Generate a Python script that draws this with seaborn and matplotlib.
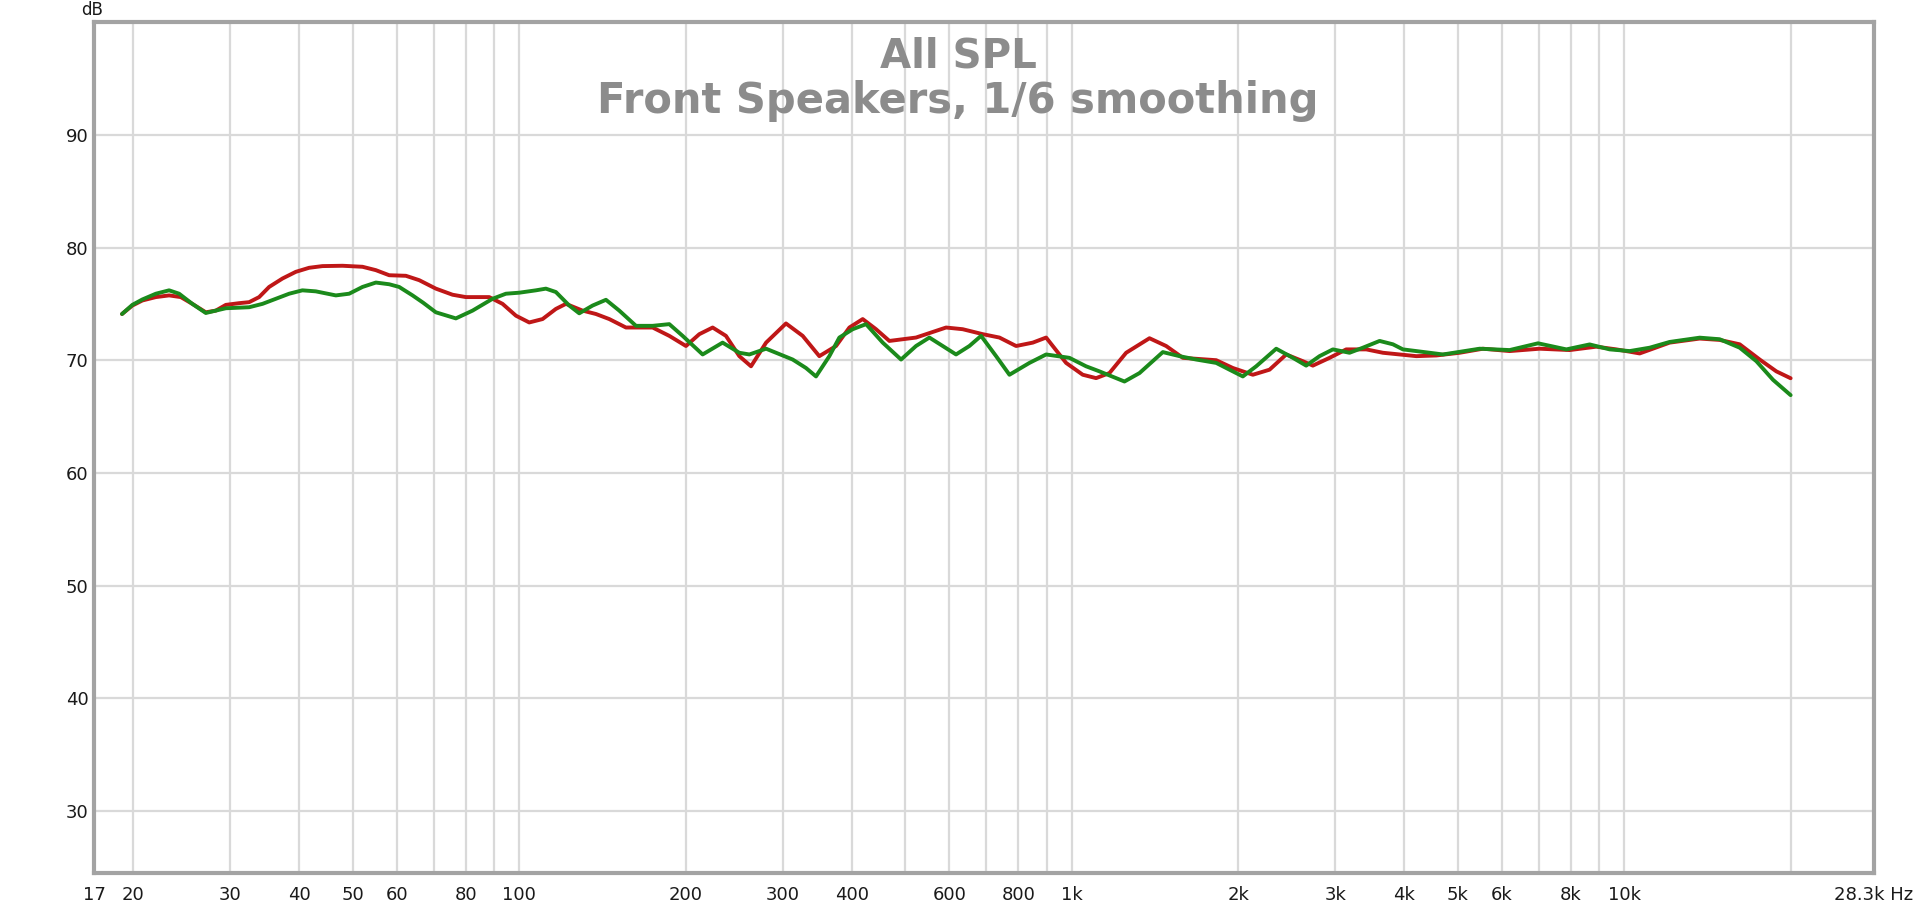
import numpy as np
import pandas as pd
import matplotlib.pyplot as plt
import seaborn as sns

# ──────────────────────────────────────────────
# Data read off the REW "All SPL" plot
# ──────────────────────────────────────────────

red_freq = [19.1, 19.94, 20.79, 21.99, 23.24, 24.40, 25.60, 27.08, 28.23, 29.44, 31.11,
            32.44, 33.82, 35.26, 37.28, 39.40, 41.65, 44.04, 47.88, 52.03, 55.01, 58.15,
            62.34, 65.91, 70.64, 75.72, 80.05, 88.23, 93.27, 98.62, 104.24, 110.19,
            116.48, 121.46, 130.20, 137.64, 145.52, 155.99, 174.33, 186.87, 200.3,
            211.77, 223.88, 236.62, 250.2, 262.7, 279.7, 303.9, 325.8, 349.2, 374.4,
            395.8, 418.4, 442.3, 467.6, 522.5, 592.2, 634.7, 690.0, 739.7, 792.9, 850.0,
            898.6, 923.8, 976.6, 1046.8, 1106.7, 1170.0, 1254.2, 1382.4, 1481.9, 1588.5,
            1825.6, 1956.6, 2126.8, 2280.0, 2444.0, 2620, 2731, 2928, 3138, 3412, 3657,
            4203, 4568, 5034, 5548, 6200, 7029, 7963, 8898, 9673, 10662, 12080, 13692,
            14880, 16176, 17582, 18844, 20000]
red_db = [74.10, 74.85, 75.30, 75.60, 75.75, 75.60, 75.00, 74.25, 74.40, 74.91, 75.06,
          75.15, 75.60, 76.50, 77.25, 77.84, 78.20, 78.35, 78.38, 78.29, 77.99, 77.54,
          77.49, 77.10, 76.35, 75.81, 75.60, 75.60, 75.00, 73.95, 73.35, 73.65, 74.55,
          75.00, 74.40, 74.10, 73.65, 72.90, 72.90, 72.16, 71.26, 72.31, 72.90, 72.16,
          70.36, 69.46, 71.56, 73.26, 72.16, 70.36, 71.26, 72.90, 73.65, 72.75, 71.71,
          72.01, 72.90, 72.75, 72.31, 72.01, 71.26, 71.56, 72.01, 71.26, 69.76, 68.71,
          68.41, 68.86, 70.66, 71.95, 71.26, 70.21, 70.00, 69.31, 68.71, 69.16, 70.51,
          69.91, 69.52, 70.21, 70.96, 70.96, 70.66, 70.36, 70.42, 70.66, 71.02, 70.81,
          71.02, 70.90, 71.20, 70.96, 70.60, 71.56, 71.92, 71.80, 71.41, 70.06, 69.01,
          68.40]

green_freq = [19.1, 19.94, 20.79, 21.99, 23.24, 24.23, 25.60, 27.08, 28.23, 29.44, 32.44,
              34.30, 36.26, 38.33, 40.50, 42.82, 46.56, 49.22, 52.03, 55.01, 58.15, 60.62,
              64.10, 67.0, 70.64, 76.78, 82.31, 89.46, 94.58, 100.0, 107.18, 111.73,
              116.48, 123.16, 128.40, 135.74, 143.51, 151.71, 162.64, 174.33, 186.87,
              197.54, 214.72, 233.34, 250.2, 260.9, 279.7, 312.5, 330.3, 344.4, 364.1,
              379.6, 401.3, 424.3, 454.8, 490.9, 522.5, 552.4, 584.0, 617.3, 652.6, 685.2,
              729.5, 771.2, 838.2, 898.6, 990.2, 1061.4, 1122.2, 1245.5, 1326.1, 1461.4,
              1566.6, 1679.4, 1825.6, 1929.3, 2039.8, 2156.6, 2344.2, 2512.8, 2656, 2808,
              2969, 3182, 3364, 3607, 3813, 3975, 4697, 5472, 6200, 6980, 7854, 8654,
              9408, 10226, 11116, 12080, 13692, 14880, 16176, 17340, 18584, 20000]
green_db = [74.10, 74.91, 75.39, 75.90, 76.20, 75.90, 75.00, 74.19, 74.40, 74.61, 74.70,
            75.00, 75.45, 75.90, 76.20, 76.11, 75.75, 75.90, 76.50, 76.89, 76.74, 76.50,
            75.75, 75.10, 74.25, 73.71, 74.40, 75.45, 75.90, 75.99, 76.20, 76.35, 76.05,
            74.85, 74.16, 74.85, 75.36, 74.40, 73.05, 73.05, 73.20, 72.16, 70.51, 71.56,
            70.66, 70.51, 71.02, 70.06, 69.31, 68.56, 70.36, 72.01, 72.75, 73.20, 71.56,
            70.06, 71.26, 72.01, 71.26, 70.51, 71.26, 72.16, 70.36, 68.71, 69.76, 70.51,
            70.21, 69.46, 69.01, 68.11, 68.86, 70.72, 70.36, 70.06, 69.76, 69.16, 68.56,
            69.46, 71.02, 70.21, 69.52, 70.36, 70.96, 70.66, 71.11, 71.71, 71.41, 70.96,
            70.51, 71.02, 70.90, 71.50, 70.96, 71.40, 70.96, 70.81, 71.11, 71.62, 72.00,
            71.86, 71.11, 69.91, 68.26, 66.90]

grid_freqs = [20, 30, 40, 50, 60, 70, 80, 90,
              100, 200, 300, 400, 500, 600, 700, 800, 900,
              1000, 2000, 3000, 4000, 5000, 6000, 7000, 8000, 9000,
              10000, 20000]
tick_labels = {17: "17", 20: "20", 30: "30", 40: "40", 50: "50", 60: "60", 80: "80",
               100: "100", 200: "200", 300: "300", 400: "400", 600: "600", 800: "800",
               1000: "1k", 2000: "2k", 3000: "3k", 4000: "4k", 5000: "5k", 6000: "6k",
               8000: "8k", 10000: "10k", 28300: "28.3k Hz"}
y_ticks = [30, 40, 50, 60, 70, 80, 90]

df = pd.concat([
    pd.DataFrame({"freq": red_freq, "spl": red_db, "trace": "red"}),
    pd.DataFrame({"freq": green_freq, "spl": green_db, "trace": "green"}),
], ignore_index=True)

# ──────────────────────────────────────────────
# Plot
# ──────────────────────────────────────────────

sns.set_theme(style="white")
plt.rcParams["font.family"] = ["DejaVu Sans"]

fig = plt.figure(figsize=(19.2, 9.13), dpi=100)
ax = fig.add_axes([0.049, 0.0438, 0.927, 0.932])

sns.lineplot(data=df, x="freq", y="spl", hue="trace", hue_order=["red", "green"],
             palette={"red": "#bf1717", "green": "#1b8a1b"}, sort=False,
             estimator=None, legend=False, linewidth=2.8, ax=ax)
for line in ax.get_lines():
    line.set_solid_joinstyle("round")

ax.set_xscale("log")
ax.set_xlim(17, 28300)
ax.set_ylim(24.5, 100)

xt = sorted(set(grid_freqs) | {17, 28300})
ax.set_xticks(xt)
ax.set_xticklabels([tick_labels.get(f, "") for f in xt])
ax.xaxis.set_minor_locator(plt.NullLocator())
ax.set_yticks(y_ticks)
ax.set_yticklabels([str(v) for v in y_ticks])
ax.tick_params(axis="both", length=0, labelsize=13, colors="#1a1a1a")
ax.tick_params(axis="x", pad=9)
ax.tick_params(axis="y", pad=4)

ax.grid(True, color="#d9d9d9", linewidth=1.6)
ax.set_axisbelow(True)
ax.set_xlabel("")
ax.set_ylabel("")

for sp in ax.spines.values():
    sp.set_visible(True)
    sp.set_color("#a3a3a3")
    sp.set_linewidth(3)

fig.text(0.048, 0.989, "dB", ha="center", va="center", fontsize=12, color="#1a1a1a")
fig.text(0.499, 1 - 56 / 913, "All SPL", ha="center", va="center",
         fontsize=29, fontweight="bold", color="#8c8c8c")
fig.text(0.499, 1 - 101 / 913, "Front Speakers, 1/6 smoothing", ha="center", va="center",
         fontsize=30, fontweight="bold", color="#8c8c8c")

fig.savefig("out.png", dpi=100)
